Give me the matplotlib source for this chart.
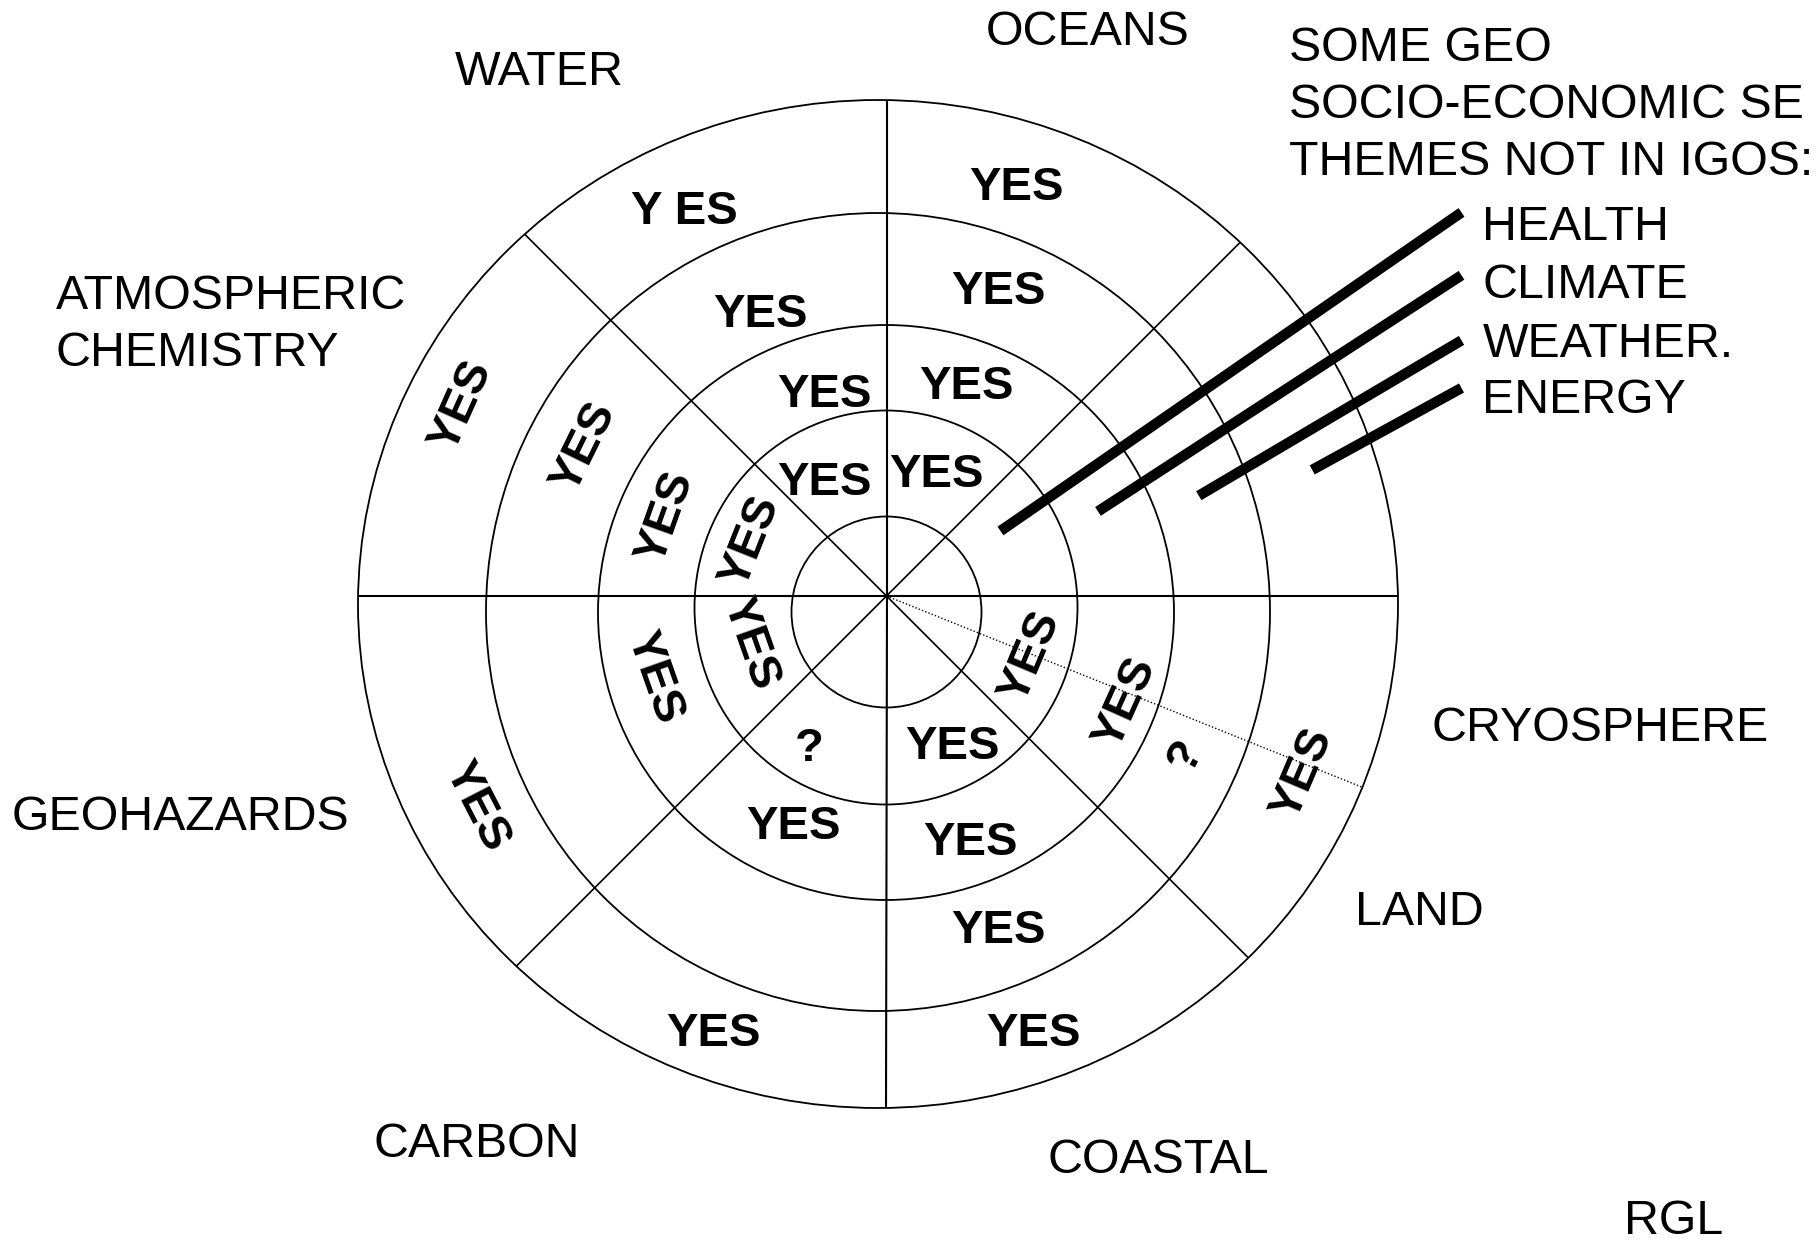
import numpy as np
import matplotlib
matplotlib.use("Agg")
import matplotlib.pyplot as plt
from matplotlib.patches import Ellipse

plt.rcParams['font.family'] = ['Liberation Sans', 'DejaVu Sans']

# ---------------- data ----------------
# outer theme labels
theme_labels = ["OCEANS", "WATER", "ATMOSPHERIC\nCHEMISTRY", "GEOHAZARDS",
                "CARBON", "COASTAL", "LAND", "CRYOSPHERE", "RGL"]
# side note and socio-economic themes not in IGOS
note_lines = ["SOME GEO", "SOCIO-ECONOMIC SE", "THEMES NOT IN IGOS:"]
extra_themes = ["HEALTH", "CLIMATE", "WEATHER.", "ENERGY"]
extra_ring = [2, 3, 4, 5]            # ring each extra theme points into

# cell contents (sector cells inside the wheel)
cell_text = ["Y ES", "YES", "YES", "YES", "YES", "YES", "YES", "YES",
             "?", "YES", "YES", "YES", "YES", "YES", "YES",
             "YES", "YES", "YES", "YES", "YES", "YES", "YES",
             "YES", "YES", "?", "YES"]

# ---------------- layout ----------------
W, H = 1816, 1240
C0 = (886.5, 596.0)                   # crossing of the radial lines
# rings: centre x, centre y, rx, ry  (hand-drawn, slightly irregular)
ring_cx = [886.5, 886.0, 886.0, 878.0, 878.0]
ring_cy = [612.0, 607.5, 612.5, 612.0, 604.0]
ring_rx = [95.0, 191.5, 288.0, 392.0, 520.0]
ring_ry = [95.5, 197.0, 287.5, 399.0, 504.0]
spoke_angles = [0, 45, 90, 135, 180, 225, 270, 315]
dotted_angle = -21.9

cell_theta = [117.7, 72.3, 114.1, 69.8, 107.1, 69.0, 118.7, 67.4,
              243.4, 293.5, 248.0, 288.8, 288.5, 248.4, 288.5,
              155.9, 153.9, 160.4, 158.3, 199.4, 199.4, 207.2,
              -22.8, -24.1, -28.0, -23.1]
cell_r = [433.9, 428.7, 307.8, 324.0, 210.3, 224.2, 128.8, 131.2,
          171.6, 164.6, 249.0, 261.0, 353.0, 471.0, 461.8,
          466.0, 337.0, 234.0, 146.3, 144.2, 246.0, 461.5,
          156.5, 262.0, 339.0, 452.8]
cell_tangent = [False] * 15 + [True] * 11

label_x = [985.6, 455.0, 55.6, 11.6, 374.0, 1048.0, 1355.0, 1431.5, 1623.8]
label_y = [27.8, 68.0, 291.9, 813.0, 1139.7, 1156.0, 908.0, 724.0, 1216.5]
line_gap = 57.0
note_x, note_y = 1289.0, 44.0
extra_x = 1482.5
extra_y = [222.4, 280.3, 339.4, 396.0]
ptr_theta = [29.7, 21.8, 17.8, 16.5]
ptr_end_dy = [-10, -5, 1, -8]

LABEL_PX = 48.3
YES_PX = 47.3
px2pt = 72.0 / 100.0

fig = plt.figure(figsize=(W / 100, H / 100), dpi=100)
ax = fig.add_axes([0, 0, 1, 1])
ax.set_xlim(0, W)
ax.set_ylim(H, 0)
ax.axis('off')


def ray_to_ellipse(p, ang, cx, cy, rx, ry):
    dx, dy = np.cos(np.radians(ang)), -np.sin(np.radians(ang))
    ox, oy = p[0] - cx, p[1] - cy
    a = (dx / rx) ** 2 + (dy / ry) ** 2
    b = 2 * (ox * dx / rx ** 2 + oy * dy / ry ** 2)
    c = (ox / rx) ** 2 + (oy / ry) ** 2 - 1
    t = (-b + np.sqrt(b * b - 4 * a * c)) / (2 * a)
    return p[0] + t * dx, p[1] + t * dy


# rings
for cx, cy, rx, ry in zip(ring_cx, ring_cy, ring_rx, ring_ry):
    ax.add_patch(Ellipse((cx, cy), 2 * rx, 2 * ry, fill=False,
                         edgecolor='black', lw=1.3))

# spokes
for ang in spoke_angles:
    ex, ey = ray_to_ellipse(C0, ang, ring_cx[-1], ring_cy[-1], ring_rx[-1], ring_ry[-1])
    ax.plot([C0[0], ex], [C0[1], ey], color='black', lw=1.2 if ang % 90 else 1.5,
            solid_capstyle='butt')

# dotted divider
ex, ey = ray_to_ellipse(C0, dotted_angle, ring_cx[-1], ring_cy[-1], ring_rx[-1], ring_ry[-1])
ax.plot([C0[0], ex], [C0[1], ey], color='black', lw=1.0, linestyle=(0, (1, 1.5)))

# cell texts
for txt, th, r, tang in zip(cell_text, cell_theta, cell_r, cell_tangent):
    x = C0[0] + r * np.cos(np.radians(th))
    y = C0[1] - r * np.sin(np.radians(th))
    rot = 0
    if tang:
        t = th % 360
        if 90 < t <= 180:
            rot = t - 90
        elif 180 < t < 270:
            rot = t - 270
        else:
            rot = (t + 90) % 360
            if rot > 180:
                rot -= 360
    ax.text(x, y, txt, fontsize=YES_PX * px2pt, fontweight='bold',
            ha='center', va='center', rotation=rot, rotation_mode='anchor')

# outer labels (baseline placed from visual centre)
for lab, x, y in zip(theme_labels, label_x, label_y):
    lines = lab.split("\n")
    for i, ln in enumerate(lines):
        ax.text(x, y + i * line_gap + 0.358 * LABEL_PX, ln,
                fontsize=LABEL_PX * px2pt, ha='left', va='baseline')

for i, ln in enumerate(note_lines):
    ax.text(note_x, note_y + i * line_gap + 0.358 * LABEL_PX, ln,
            fontsize=LABEL_PX * px2pt, ha='left', va='baseline')

# extra themes and their pointers into the wheel
for th_name, y, ring, pth, dy in zip(extra_themes, extra_y, extra_ring, ptr_theta, ptr_end_dy):
    ax.text(extra_x, y + 0.358 * LABEL_PX, th_name,
            fontsize=LABEL_PX * px2pt, ha='left', va='baseline')
    r_in = (ring_rx[ring - 2] + ring_rx[ring - 1]) / 2 - 12
    sx = C0[0] + r_in * np.cos(np.radians(pth))
    sy = C0[1] - r_in * np.sin(np.radians(pth))
    ax.plot([sx, extra_x - 21], [sy, y + dy], color='black', lw=7.5,
            solid_capstyle='butt')

fig.savefig("out.png", dpi=100, facecolor='white')
